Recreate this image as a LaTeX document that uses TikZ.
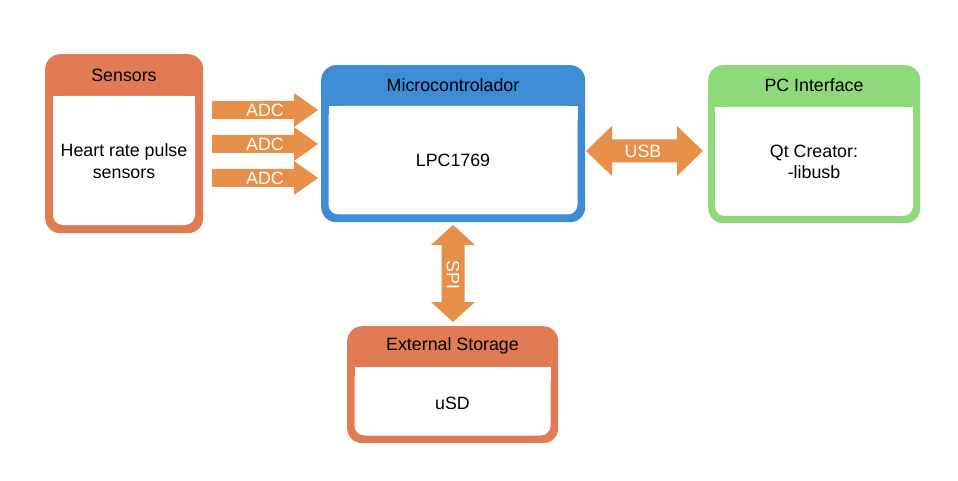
\documentclass[tikz,border=0pt]{standalone}
\usepackage{fontspec}
\setmainfont{Liberation Sans}
\usetikzlibrary{calc}
\definecolor{boxorange}{HTML}{E07B53}
\definecolor{boxblue}{HTML}{3F8CD6}
\definecolor{boxgreen}{HTML}{8FD97B}
\definecolor{arroworange}{HTML}{E8904A}
% block: name, color, x1, y1, x2, y2, header bottom, border width
\newcommand\drawblock[8]{%
  \node[blockbg, fill=#2, minimum width={#5-#3}, minimum height={#6-#4}, anchor=north west] (#1) at (#3,#4) {};
  \fill[white, rounded corners=10pt] (#3+#8,#7) rectangle (#5-#8,#6-#8);
  \fill[white] (#3+#8,#7) rectangle (#5-#8,#7+14);
}
% right arrow: start, end, shaft half, head half, head length
\newcommand\rightfat[5]{%
  \fill[arroworange] ($(#1)+(0,-#3)$) -- ($(#2)+(-#5,-#3)$) -- ($(#2)+(-#5,-#4)$) -- (#2)
    -- ($(#2)+(-#5,#4)$) -- ($(#2)+(-#5,#3)$) -- ($(#1)+(0,#3)$) -- cycle;
}
\newcommand\hdoublefat[5]{%
  \fill[arroworange] (#1) -- ($(#1)+(#5,-#4)$) -- ($(#1)+(#5,-#3)$) -- ($(#2)+(-#5,-#3)$) -- ($(#2)+(-#5,-#4)$) -- (#2)
    -- ($(#2)+(-#5,#4)$) -- ($(#2)+(-#5,#3)$) -- ($(#1)+(#5,#3)$) -- ($(#1)+(#5,#4)$) -- cycle;
}
\newcommand\vdoublefat[5]{%
  \fill[arroworange] (#1) -- ($(#1)+(#4,#5)$) -- ($(#1)+(#3,#5)$) -- ($(#2)+(#3,-#5)$) -- ($(#2)+(#4,-#5)$) -- (#2)
    -- ($(#2)+(-#4,-#5)$) -- ($(#2)+(-#3,-#5)$) -- ($(#1)+(-#3,#5)$) -- ($(#1)+(-#4,#5)$) -- cycle;
}
\begin{document}
\begin{tikzpicture}[x=1pt,y=-1pt,
  blockbg/.style={rounded corners=15pt, inner sep=0pt, draw=none},
  blocktitle/.style={font=\fontsize{17.8}{21}\selectfont, text=black, inner sep=0pt, align=center},
  blockbody/.style={font=\fontsize{17.8}{21.5}\selectfont, text=black, inner sep=0pt, align=center},
  arrowlabel/.style={font=\fontsize{17.8}{21}\selectfont, text=white, inner sep=0pt}]
\useasboundingbox (0,0) rectangle (958,481);

% blocks
\drawblock{sens}{boxorange}{45}{54}{203}{233}{96}{8}
\node[blocktitle] (senst) at (124,75) {Sensors};
\node[blockbody] (sensb) at (124,161) {Heart rate pulse\\sensors};

\drawblock{mcu}{boxblue}{321}{65}{585}{222}{106}{7.5}
\node[blocktitle] (mcut) at (453,85) {Microcontrolador};
\node[blockbody] (mcub) at (453,160) {LPC1769};

\drawblock{pc}{boxgreen}{708}{65}{920}{223}{107}{7}
\node[blocktitle] (pct) at (814,85) {PC Interface};
\node[blockbody] (pcb) at (814,162) {Qt Creator:\\-libusb};

\drawblock{stor}{boxorange}{347}{326}{558}{443}{367}{7.5}
\node[blocktitle] (stort) at (452.5,346) {External Storage};
\node[blockbody] (storb) at (452.5,403) {uSD};

% connector end points
\coordinate (adc1s) at (212,110); \coordinate (adc1e) at (318,110);
\coordinate (adc2s) at (212,144); \coordinate (adc2e) at (318,144);
\coordinate (adc3s) at (212,178); \coordinate (adc3e) at (318,178);
\coordinate (usbs) at (586,151); \coordinate (usbe) at (703,151);
\coordinate (spis) at (453,225); \coordinate (spie) at (453,322);

\rightfat{adc1s}{adc1e}{9}{17}{24}
\rightfat{adc2s}{adc2e}{9}{17}{24}
\rightfat{adc3s}{adc3e}{9}{17}{24}
\hdoublefat{usbs}{usbe}{11.5}{25}{26}
\vdoublefat{spis}{spie}{11.5}{22}{20}

\node[arrowlabel] (adc1) at (265,110) {ADC};
\node[arrowlabel] (adc2) at (265,144) {ADC};
\node[arrowlabel] (adc3) at (265,178) {ADC};
\node[arrowlabel] (usb) at (643,151) {USB};
\node[arrowlabel, rotate=-90] (spi) at (453,275) {SPI};
\end{tikzpicture}
\end{document}
